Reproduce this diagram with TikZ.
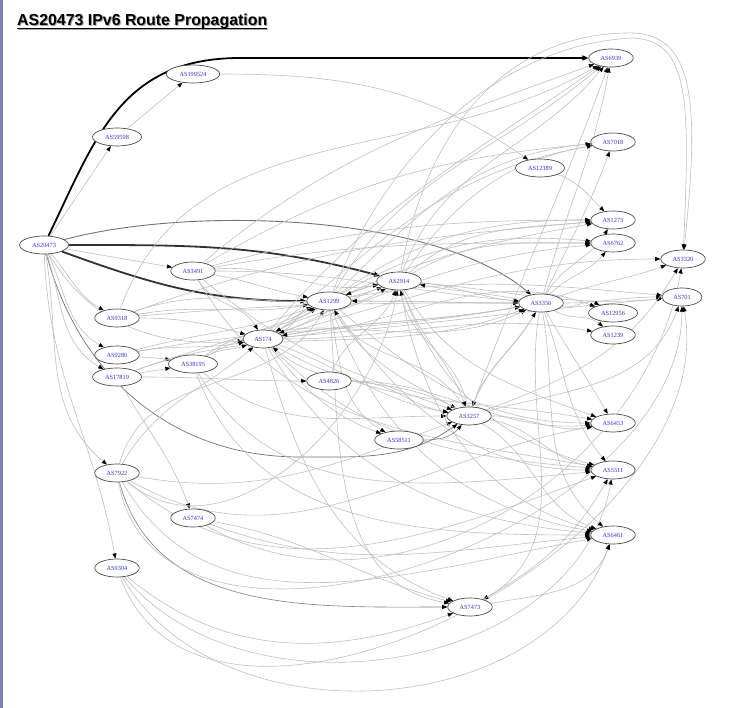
\documentclass[tikz,border=0pt]{standalone}
\usepackage{fontspec}
\setmainfont{Liberation Serif}
\newfontfamily\headfont{Liberation Sans}
\usetikzlibrary{arrows.meta,shapes.geometric,backgrounds}
\definecolor{asblue}{RGB}{50,50,220}
\definecolor{edgegray}{RGB}{192,192,192}
\definecolor{sidebar}{RGB}{128,128,190}
\tikzset{
  asnode/.style={ellipse, draw=black!70, line width=0.7pt, fill=white, text=asblue,
    font=\fontsize{6.3}{7}\selectfont, inner xsep=5.4pt, inner ysep=0pt, minimum height=18pt},
  e/.style={draw=edgegray, line width=0.6pt, -{Triangle[length=5.2pt,width=4pt,color=black]}},
  heavy/.style={draw=black, line width=1.8pt, -{Triangle[length=6pt,width=5pt,color=black]}},
}
\newcommand{\edgeto}[4]{\draw[e] (n#1) to[out=#3,in=#4] (n#2);}
\begin{document}
\begin{tikzpicture}[x=1pt,y=1pt]
\useasboundingbox (0,0) rectangle (754,-708);

% sidebar and heading
\fill[sidebar] (0,0) rectangle (2.5,-708);
\node[anchor=base west, inner sep=0, text=black!35, font=\headfont\bfseries\fontsize{15.9}{18}\selectfont] (titleshadow) at (18,-27) {AS20473 IPv6 Route Propagation};
\draw[black!35, line width=1.1pt] (18,-29.5) -- (268,-29.5);
\node[anchor=base west, inner sep=0, font=\headfont\bfseries\fontsize{15.9}{18}\selectfont] (title) at (17,-26) {AS20473 IPv6 Route Propagation};
\draw[black, line width=1.1pt] (17,-28.5) -- (267,-28.5);

% autonomous systems
\node[asnode] (n20473) at (44,-245) {AS20473};
\node[asnode] (n199524) at (193,-74) {AS199524};
\node[asnode] (n59598) at (117,-137) {AS59598};
\node[asnode] (n3491) at (193,-271) {AS3491};
\node[asnode] (n9318) at (117,-318) {AS9318};
\node[asnode] (n9280) at (117,-355) {AS9280};
\node[asnode] (n17819) at (117,-377) {AS17819};
\node[asnode] (n38195) at (193,-364) {AS38195};
\node[asnode] (n174) at (263,-339) {AS174};
\node[asnode] (n1299) at (329,-301) {AS1299};
\node[asnode] (n2914) at (399,-281) {AS2914};
\node[asnode] (n4826) at (329,-381) {AS4826};
\node[asnode] (n3257) at (469,-416) {AS3257};
\node[asnode] (n58511) at (399,-440) {AS58511};
\node[asnode] (n3356) at (541,-303) {AS3356};
\node[asnode] (n6939) at (611,-58) {AS6939};
\node[asnode] (n7018) at (613,-142) {AS7018};
\node[asnode] (n12389) at (540,-168) {AS12389};
\node[asnode] (n1273) at (613,-220) {AS1273};
\node[asnode] (n6762) at (613,-243) {AS6762};
\node[asnode] (n3320) at (683,-259) {AS3320};
\node[asnode] (n701) at (682,-297) {AS701};
\node[asnode] (n12956) at (613,-313) {AS12956};
\node[asnode] (n1239) at (613,-335) {AS1239};
\node[asnode] (n6453) at (613,-423) {AS6453};
\node[asnode] (n5511) at (613,-470) {AS5511};
\node[asnode] (n6461) at (613,-535) {AS6461};
\node[asnode] (n7922) at (117,-473) {AS7922};
\node[asnode] (n7474) at (193,-518) {AS7474};
\node[asnode] (n9304) at (117,-568) {AS9304};
\node[asnode] (n7473) at (470,-607) {AS7473};

\coordinate (k6939) at (240,-58);
\coordinate (k3257) at (300,-457);
\coordinate (top1) at (625,-33);
\coordinate (top2) at (632,-38);

\begin{pgfonlayer}{background}
\fill[white] (0,0) rectangle (754,-708);

% routes leaving AS20473
\draw[heavy] (n20473) .. controls (95,-140) and (120,-58) .. (k6939) -- (n6939);
\draw[heavy, draw=black!80] (n20473) to[out=0,in=165] (n2914);
\draw[heavy, draw=black!80] (n20473) to[out=-20,in=180] (n1299);
\draw[e, draw=black!55, line width=0.9pt] (n20473) to[out=15,in=140,looseness=0.7] (n3356);
\draw[e, draw=black!55, line width=0.7pt] (n20473) to[out=-75,in=180] (k3257) to[out=0,in=215] (n3257);
\draw[e] (n20473) -- (n59598);
\draw[e] (n59598) -- (n199524);
\edgeto{20473}{3491}{-10}{170}
\edgeto{20473}{9318}{-50}{150}
\edgeto{20473}{9280}{-65}{150}
\edgeto{20473}{17819}{-72}{150}
\edgeto{20473}{7922}{-80}{140}
\edgeto{20473}{9304}{-88}{100}
\edgeto{20473}{174}{-60}{185}
\edgeto{199524}{12389}{0}{145}
\edgeto{12389}{1273}{-20}{135}

% AS3491
\edgeto{3491}{174}{-60}{120}
\edgeto{3491}{1299}{-10}{170}
\edgeto{3491}{2914}{5}{190}
\edgeto{3491}{3356}{0}{175}
\edgeto{3491}{6939}{40}{200}
\edgeto{3491}{7018}{30}{185}
\edgeto{3491}{1273}{15}{180}
\edgeto{3491}{6762}{10}{180}
\edgeto{3491}{3257}{-40}{160}
\edgeto{3491}{5511}{-60}{170}

% AS9318
\edgeto{9318}{174}{0}{165}
\edgeto{9318}{1299}{10}{190}
\edgeto{9318}{2914}{20}{200}
\edgeto{9318}{3356}{5}{180}
\edgeto{9318}{6939}{70}{210}
\edgeto{9318}{1273}{20}{185}

% AS9280 and AS17819
\edgeto{9280}{38195}{-5}{170}
\edgeto{9280}{174}{10}{190}
\edgeto{9280}{1299}{15}{200}
\edgeto{9280}{3356}{10}{190}
\edgeto{17819}{38195}{10}{190}
\edgeto{17819}{4826}{0}{180}
\edgeto{17819}{7474}{-60}{110}
\edgeto{17819}{1299}{20}{205}
\edgeto{17819}{3356}{20}{200}

% AS38195 and AS4826
\edgeto{38195}{174}{30}{200}
\edgeto{38195}{1299}{35}{210}
\edgeto{38195}{3356}{30}{205}
\edgeto{38195}{3257}{-40}{180}
\edgeto{38195}{5511}{-60}{185}
\edgeto{38195}{6461}{-70}{180}
\edgeto{4826}{3257}{0}{170}
\edgeto{4826}{6453}{0}{185}
\edgeto{4826}{2914}{70}{-110}

% AS7922, AS9304 and AS7474
\edgeto{7922}{174}{60}{-140}
\edgeto{7922}{1299}{75}{-120}
\edgeto{7922}{3257}{-10}{200}
\edgeto{7922}{6453}{-30}{190}
\edgeto{7922}{5511}{-40}{200}
\edgeto{7922}{6461}{-60}{190}
\draw[e, draw=black!50] (n7922) to[out=-75,in=180] (n7473);
\edgeto{7922}{701}{-80}{-90}
\edgeto{7922}{2914}{-40}{-100}
\edgeto{9304}{7473}{-40}{200}
\edgeto{9304}{6461}{-60}{-110}
\edgeto{9304}{5511}{-50}{-100}
\edgeto{9304}{701}{-70}{-80}
\edgeto{7474}{7473}{-10}{165}
\edgeto{7474}{6461}{-20}{185}
\edgeto{7474}{3320}{-30}{-100}

% AS174
\edgeto{174}{1299}{20}{200}
\edgeto{174}{2914}{30}{210}
\edgeto{174}{3356}{10}{190}
\edgeto{174}{3257}{-20}{170}
\edgeto{174}{6939}{50}{215}
\edgeto{174}{7018}{40}{190}
\edgeto{174}{1273}{30}{190}
\edgeto{174}{6762}{20}{185}
\edgeto{174}{3320}{15}{180}
\edgeto{174}{701}{5}{185}
\edgeto{174}{12956}{5}{160}
\edgeto{174}{1239}{0}{170}
\edgeto{174}{6453}{-30}{170}
\edgeto{174}{5511}{-45}{175}
\edgeto{174}{6461}{-60}{175}
\edgeto{174}{7473}{-75}{160}
\edgeto{174}{58511}{-50}{160}

% AS1299
\edgeto{1299}{174}{200}{30}
\edgeto{1299}{2914}{20}{190}
\edgeto{1299}{3356}{0}{180}
\edgeto{1299}{3257}{-60}{150}
\edgeto{1299}{58511}{-80}{150}
\edgeto{1299}{6939}{60}{220}
\edgeto{1299}{7018}{45}{185}
\edgeto{1299}{1273}{35}{180}
\edgeto{1299}{6762}{30}{175}
\draw[e] (n1299) .. controls (390,-150) and (500,-45) .. (top2) .. controls (690,-40) and (690,-100) .. (n3320);
\edgeto{1299}{701}{10}{175}
\edgeto{1299}{6453}{-40}{180}
\edgeto{1299}{5511}{-55}{180}
\edgeto{1299}{6461}{-70}{170}
\edgeto{1299}{7473}{-85}{170}

% AS2914
\edgeto{2914}{174}{200}{20}
\edgeto{2914}{1299}{190}{20}
\edgeto{2914}{3356}{-5}{175}
\edgeto{2914}{3257}{-70}{110}
\edgeto{2914}{6939}{70}{230}
\edgeto{2914}{7018}{55}{190}
\edgeto{2914}{1273}{40}{185}
\edgeto{2914}{6762}{30}{180}
\draw[e] (n2914) .. controls (430,-110) and (520,-35) .. (top1) .. controls (695,-30) and (700,-100) .. (n3320);
\edgeto{2914}{701}{-5}{185}
\edgeto{2914}{6453}{-60}{160}
\edgeto{2914}{5511}{-70}{165}
\edgeto{2914}{6461}{-80}{165}

% AS3356
\edgeto{3356}{174}{190}{10}
\edgeto{3356}{1299}{180}{0}
\edgeto{3356}{2914}{170}{-10}
\edgeto{3356}{3257}{-120}{70}
\edgeto{3356}{6939}{75}{-100}
\edgeto{3356}{7018}{65}{-110}
\edgeto{3356}{1273}{60}{-120}
\edgeto{3356}{6762}{45}{-130}
\edgeto{3356}{3320}{20}{200}
\edgeto{3356}{701}{0}{180}
\edgeto{3356}{12956}{-10}{150}
\edgeto{3356}{1239}{-30}{140}
\edgeto{3356}{6453}{-60}{120}
\edgeto{3356}{5511}{-70}{130}
\edgeto{3356}{6461}{-80}{140}
\edgeto{3356}{7473}{-100}{30}

% AS3257, AS58511 and AS7473
\edgeto{3257}{174}{150}{-40}
\edgeto{3257}{1299}{120}{-60}
\edgeto{3257}{2914}{100}{-80}
\edgeto{3257}{3356}{70}{-120}
\edgeto{3257}{6939}{70}{-110}
\edgeto{3257}{6453}{0}{190}
\edgeto{3257}{5511}{-10}{170}
\edgeto{3257}{6461}{-30}{160}
\edgeto{3257}{701}{15}{-110}
\edgeto{3257}{3320}{20}{-120}
\draw[e, draw=black!45] (n58511) to[out=0,in=-130] (n3257);
\edgeto{7473}{5511}{30}{-120}
\edgeto{7473}{6461}{10}{-110}
\end{pgfonlayer}

% right margin
\fill[white] (706,0) rectangle (754,-708);
\end{tikzpicture}
\end{document}
